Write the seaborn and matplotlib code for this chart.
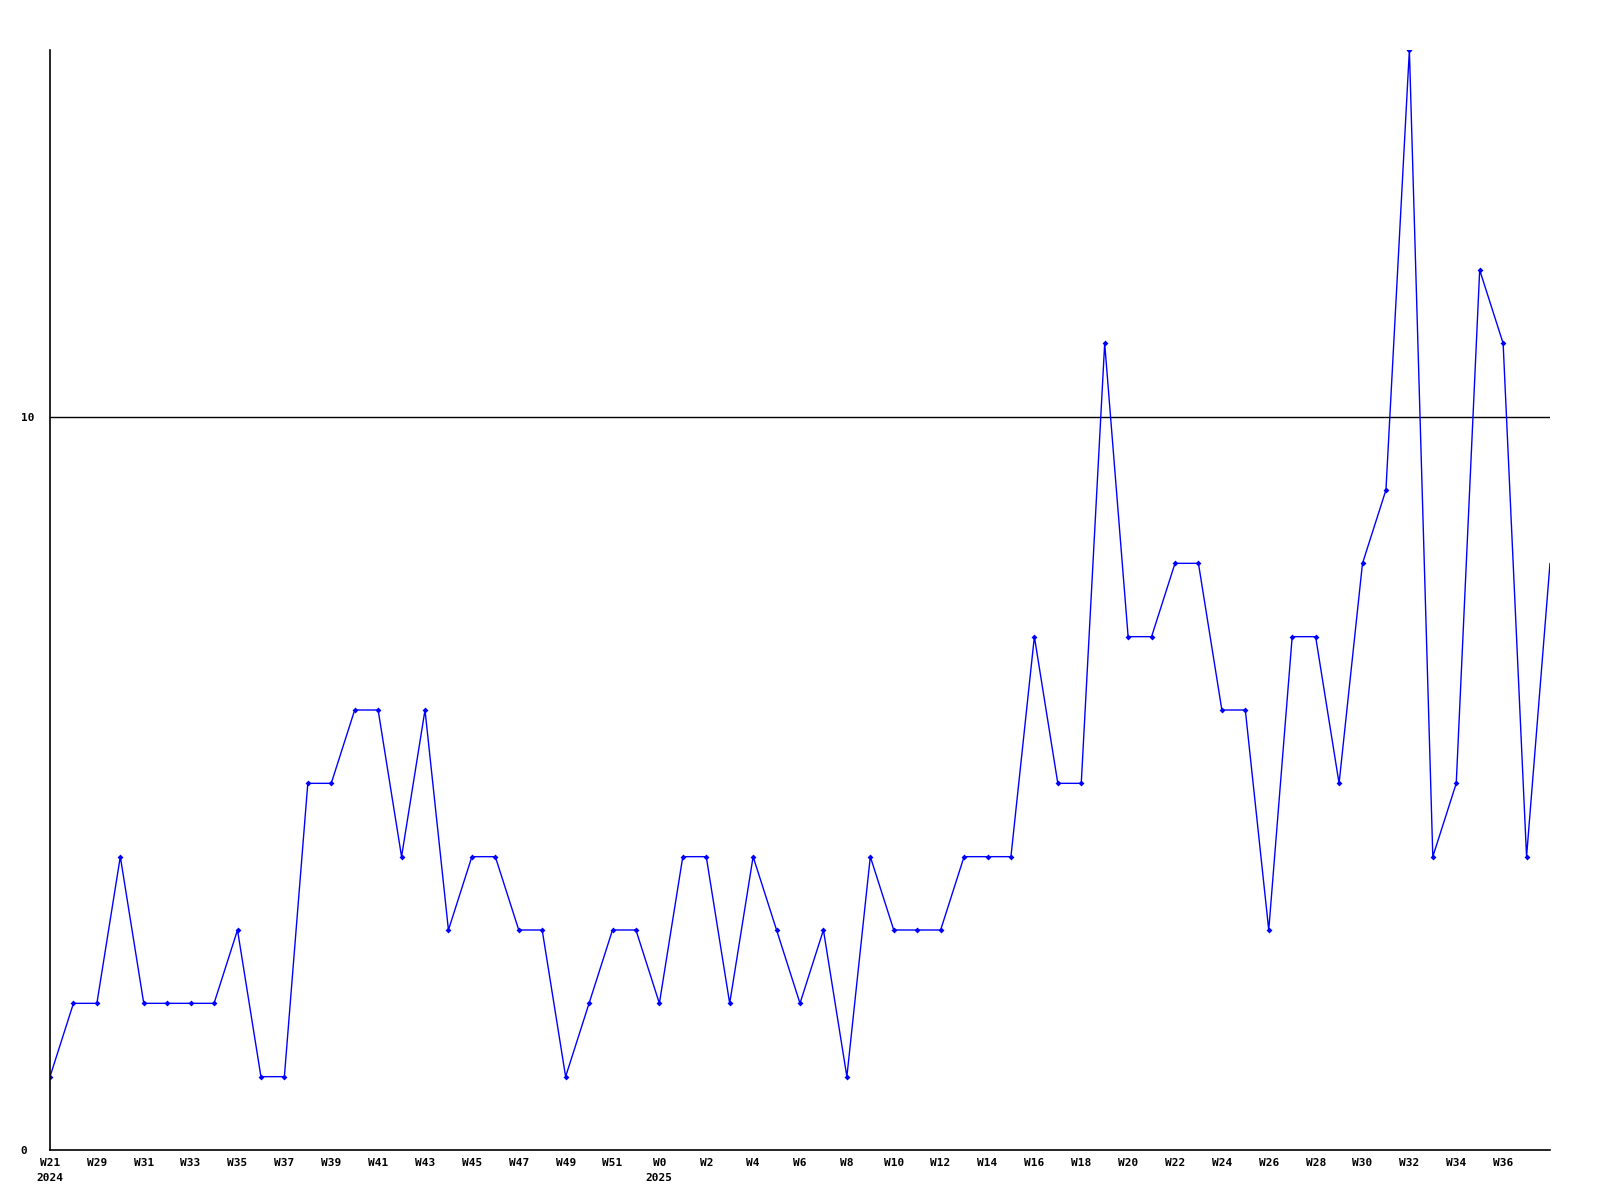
import numpy as np
import pandas as pd
import matplotlib
matplotlib.use('Agg')
import matplotlib.pyplot as plt
import seaborn as sns

# weekly counts
values = [1, 2, 2, 4, 2, 2, 2, 2, 3, 1, 1, 5, 5, 6, 6, 4, 6, 3, 4, 4,
          3, 3, 1, 2, 3, 3, 2, 4, 4, 2, 4, 3, 2, 3, 1, 4, 3, 3, 3, 4,
          4, 4, 7, 5, 5, 11, 7, 7, 8, 8, 6, 6, 3, 7, 7, 5, 8, 9, 15, 4,
          5, 12, 11, 4, 8]

tick_labels = ['W21\n2024', 'W29', 'W31', 'W33', 'W35', 'W37', 'W39', 'W41',
               'W43', 'W45', 'W47', 'W49', 'W51', 'W0\n2025', 'W2', 'W4',
               'W6', 'W8', 'W10', 'W12', 'W14', 'W16', 'W18', 'W20', 'W22',
               'W24', 'W26', 'W28', 'W30', 'W32', 'W34', 'W36']

y_ticks = [0, 10]

df = pd.DataFrame({'week': np.arange(len(values)), 'count': values})

sns.set_style('white')
plt.rcParams['font.family'] = ['DejaVu Sans Mono']

fig = plt.figure(figsize=(16, 12), dpi=100)
ax = fig.add_axes([50 / 1600, 50 / 1200, 1500 / 1600, 1100 / 1200])

# last point sits on the right edge without a marker in the original
sns.lineplot(data=df, x='week', y='count', ax=ax, color='#0000ff',
             linewidth=1, marker='D', markersize=3, markeredgewidth=0,
             markevery=list(range(len(values) - 1)))

ax.axhline(10, color='black', linewidth=1, zorder=0)

ax.set_xlim(0, len(values) - 1)
ax.set_ylim(0, 15)
ax.set_xticks(np.arange(0, 2 * len(tick_labels), 2))
ax.set_xticklabels(tick_labels, fontsize=8, fontweight='bold', linespacing=1.6,
                   va='top', color='black')
ax.set_yticks(y_ticks)
ax.set_yticklabels([str(t) for t in y_ticks], fontsize=8, fontweight='bold',
                   color='black', ha='left')
ax.tick_params(axis='x', length=0, pad=6)
ax.tick_params(axis='y', length=0, pad=21)
ax.set_xlabel('')
ax.set_ylabel('')

sns.despine(ax=ax)
for s in ['left', 'bottom']:
    ax.spines[s].set_color('black')
    ax.spines[s].set_linewidth(1.2)

fig.savefig('out.png', dpi=100)
